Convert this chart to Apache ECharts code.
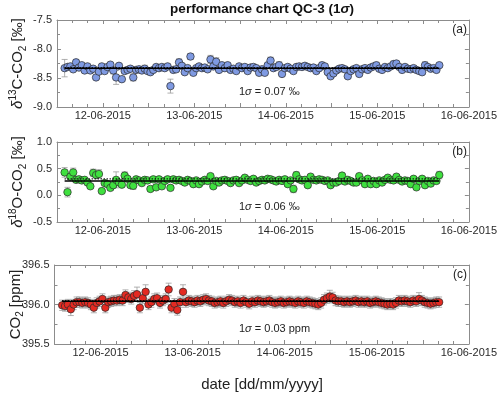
<!DOCTYPE html>
<html>
<head>
<meta charset="utf-8">
<script src="https://cdn.jsdelivr.net/npm/echarts@6/dist/echarts.min.js"></script>
<style>
  html, body { margin: 0; padding: 0; background: #fff; }
  #chart { width: 500px; height: 399px; }
</style>
</head>
<body>
<div id="chart"></div>
<script>
// 测量时间：6月11日 14:00 起，每 45 分钟一次（单位：6 月的日）
const timeStart = 11 + 14 / 24
const timeStep = 0.75 / 24

// x 轴刻度标签（日）
const dayTicks = [12, 13, 14, 15, 16]

// δ13C-CO2 [‰]
const d13C = [
  -8.33, -8.31, -8.30, -8.35, -8.23, -8.32, -8.28, -8.37, -8.30, -8.37,
  -8.34, -8.49, -8.39, -8.30, -8.38, -8.31, -8.27, -8.37, -8.49, -8.29,
  -8.52, -8.38, -8.36, -8.34, -8.49, -8.36, -8.35, -8.37, -8.34, -8.38,
  -8.40, -8.36, -8.31, -8.33, -8.31, -8.33, -8.30, -8.64, -8.36, -8.35,
  -8.23, -8.29, -8.40, -8.33, -8.13, -8.41, -8.33, -8.30, -8.33, -8.32,
  -8.35, -8.18, -8.30, -8.22, -8.36, -8.28, -8.33, -8.28, -8.36, -8.34,
  -8.38, -8.30, -8.33, -8.31, -8.38, -8.32, -8.31, -8.33, -8.41, -8.35,
  -8.41, -8.28, -8.20, -8.33, -8.31, -8.28, -8.43, -8.33, -8.31, -8.34,
  -8.38, -8.31, -8.30, -8.31, -8.29, -8.31, -8.33, -8.32, -8.38, -8.33,
  -8.28, -8.30, -8.40, -8.47, -8.42, -8.37, -8.34, -8.33, -8.35, -8.47,
  -8.38, -8.35, -8.33, -8.43, -8.35, -8.33, -8.36, -8.32, -8.30, -8.28,
  -8.34, -8.36, -8.31, -8.33, -8.30, -8.26, -8.25, -8.31, -8.36, -8.31,
  -8.34, -8.35, -8.33, -8.36, -8.38, -8.40, -8.28, -8.31, -8.34, -8.33,
  -8.36, -8.28
]

// δ18O-CO2 [‰]
const d18O = [
  0.43, 0.06, 0.35, 0.43, 0.29, 0.30, 0.28, 0.29, 0.24, 0.17,
  0.42, 0.38, 0.40, 0.08, 0.23, 0.21, 0.14, 0.19, 0.29, 0.24,
  0.20, 0.37, 0.31, 0.19, 0.18, 0.30, 0.28, 0.23, 0.29, 0.28,
  0.12, 0.30, 0.15, 0.30, 0.17, 0.27, 0.30, 0.14, 0.30, 0.28,
  0.29, 0.27, 0.24, 0.29, 0.27, 0.21, 0.28, 0.21, 0.26, 0.29,
  0.27, 0.36, 0.17, 0.27, 0.24, 0.28, 0.29, 0.27, 0.23, 0.28,
  0.29, 0.23, 0.28, 0.33, 0.29, 0.27, 0.31, 0.24, 0.27, 0.29,
  0.28, 0.31, 0.30, 0.28, 0.26, 0.29, 0.27, 0.30, 0.21, 0.28,
  0.12, 0.38, 0.30, 0.28, 0.29, 0.19, 0.35, 0.29, 0.28, 0.30,
  0.29, 0.27, 0.28, 0.19, 0.24, 0.24, 0.27, 0.37, 0.26, 0.29,
  0.27, 0.24, 0.24, 0.36, 0.28, 0.21, 0.31, 0.21, 0.27, 0.21,
  0.28, 0.24, 0.29, 0.33, 0.29, 0.28, 0.35, 0.29, 0.26, 0.28,
  0.27, 0.21, 0.31, 0.15, 0.27, 0.31, 0.19, 0.27, 0.22, 0.28,
  0.27, 0.38
]

// CO2 [ppm]
const co2 = [
  395.99, 395.98, 396.00, 395.94, 396.00, 396.03, 396.03, 396.02, 396.03, 396.02,
  396.00, 395.96, 396.02, 396.04, 396.07, 395.96, 396.03, 396.04, 396.05, 396.05,
  396.06, 396.05, 396.12, 396.09, 396.07, 396.11, 396.13, 395.96, 396.08, 396.16,
  396.00, 396.03, 396.07, 396.08, 396.02, 396.05, 396.07, 396.19, 395.96, 396.01,
  395.93, 396.03, 396.16, 396.03, 396.05, 396.04, 396.03, 396.05, 396.04, 396.06,
  396.07, 396.05, 396.04, 396.02, 396.03, 396.04, 396.02, 396.04, 396.06, 396.05,
  396.03, 396.04, 396.02, 396.05, 396.03, 396.01, 396.04, 396.03, 396.05, 396.04,
  396.03, 396.04, 396.05, 396.03, 396.02, 396.03, 396.04, 396.02, 396.03, 396.04,
  396.03, 396.02, 396.04, 396.03, 396.02, 396.04, 396.03, 396.02, 396.01, 396.00,
  396.02, 396.06, 396.08, 396.10, 396.09, 396.05, 396.04, 396.04, 396.03, 396.04,
  396.03, 396.04, 396.05, 396.03, 396.04, 396.03, 396.04, 396.02, 396.03, 396.04,
  396.03, 396.02, 396.01, 396.00, 396.01, 396.00, 396.02, 396.05, 396.04, 396.05,
  396.04, 396.03, 396.05, 396.04, 396.07, 396.05, 396.03, 396.02, 396.01, 396.02,
  396.03, 396.03
]

// 误差（1σ）：默认值 + 个别点
const errDefault = [0.03, 0.04, 0.065]
const errExtraA = { 0: 0.15, 4: 0.05, 17: 0.06, 18: 0.12, 24: 0.06, 28: 0.06, 37: 0.12, 40: 0.06, 44: 0.05, 51: 0.07, 53: 0.07, 72: 0.06, 75: 0.06, 90: 0.05, 109: 0.05, 115: 0.05, 126: 0.06 }
const errExtraB = { 0: 0.09, 1: 0.09, 3: 0.08, 10: 0.07, 12: 0.08, 18: 0.15, 21: 0.07, 24: 0.07, 80: 0.07, 81: 0.06, 131: 0.07 }
const errExtraC = { 3: 0.08, 26: 0.09, 29: 0.09, 37: 0.08, 42: 0.09, 93: 0.08, 124: 0.08 }

// 平均线（实线）与参考线（点线）
const meanValues = [-8.33, 0.27, 396.04]
const refValues = [-8.32, 0.31, 396.05]

// y 轴范围与刻度标签
const yMin = [-9.0, -0.5, 395.5]
const yMax = [-7.5, 1.0, 396.5]
const yTicks = [
  [-9.0, -8.5, -8.0, -7.5],
  [-0.5, 0.0, 0.5, 1.0],
  [395.5, 396.0, 396.5]
]
const sigmaTexts = ['= 0.07 ‰', '= 0.06 ‰', '= 0.03 ppm']
const panelTags = ['(a)', '(b)', '(c)']

const FONT = 'Liberation Sans'
const colors = ['#7f9ae2', '#3fe03f', '#e42a22']
const grids = [
  { left: 54, right: 29, top: 20, height: 87 },
  { left: 54, right: 29, top: 142, height: 80 },
  { left: 54, right: 29, top: 265, height: 79 }
]

const times = d13C.map((_, i) => timeStart + i * timeStep)
const tFirst = times[0]
const tLast = times[times.length - 1]

const pad = (n) => (n < 10 ? '0' + n : '' + n)
const dateLabel = (v) => {
  const d = Math.round(v)
  if (Math.abs(v - d) > 1e-6 || dayTicks.indexOf(d) < 0) return ''
  return pad(d) + '-06-2015'
}

const yNames = [
  '{it|δ}{sup|13}{n|C-CO}{sub|2}{n| [‰]}',
  '{it|δ}{sup|18}{n|O-CO}{sub|2}{n| [‰]}',
  '{n|CO}{sub|2}{n| [ppm]}'
]
const nameRich = {
  n: { fontFamily: FONT, fontSize: 15, color: '#222', lineHeight: 20 },
  it: { fontFamily: FONT, fontSize: 15, fontStyle: 'italic', color: '#222', lineHeight: 20 },
  sup: { fontFamily: FONT, fontSize: 10, color: '#222', verticalAlign: 'top', lineHeight: 10 },
  sub: { fontFamily: FONT, fontSize: 10, color: '#222', verticalAlign: 'bottom', lineHeight: 10 }
}

const axisLineStyle = { color: '#8c8c8c', width: 1 }
const tickStyle = { color: '#8c8c8c', width: 1 }

const xAxes = []
const yAxes = []
const series = []
const seriesData = [d13C, d18O, co2]
const errExtras = [errExtraA, errExtraB, errExtraC]

grids.forEach((g, k) => {
  // 下方 x 轴（带标签）和上方 x 轴（只画刻度）
  xAxes.push({
    type: 'value', gridIndex: k, min: 11.5, max: 16, interval: 0.5, position: 'bottom',
    axisLine: { onZero: false, lineStyle: axisLineStyle },
    axisTick: { inside: true, length: 4, lineStyle: tickStyle },
    minorTick: { show: true, splitNumber: 3, length: 3, lineStyle: tickStyle },
    axisLabel: { formatter: dateLabel, fontFamily: FONT, fontSize: 11, color: '#2a2a2a', margin: 3, showMaxLabel: true },
    splitLine: { show: false }
  })
  xAxes.push({
    type: 'value', gridIndex: k, min: 11.5, max: 16, interval: 0.5, position: 'top',
    axisLine: { onZero: false, lineStyle: axisLineStyle },
    axisTick: { inside: true, length: 4, lineStyle: tickStyle },
    minorTick: { show: true, splitNumber: 3, length: 3, lineStyle: tickStyle },
    axisLabel: { show: false },
    splitLine: { show: false }
  })
  yAxes.push({
    type: 'value', gridIndex: k, min: yMin[k], max: yMax[k], interval: 0.5, position: 'left',
    axisLine: { onZero: false, lineStyle: axisLineStyle },
    axisTick: { inside: true, length: 4, lineStyle: tickStyle },
    minorTick: { show: true, splitNumber: 2, length: 3, lineStyle: tickStyle },
    axisLabel: {
      customValues: yTicks[k],
      formatter: (v) => v.toFixed(1), fontFamily: FONT, fontSize: 11, color: '#2a2a2a', margin: 5,
      showMinLabel: true, showMaxLabel: true, hideOverlap: false
    },
    splitLine: { show: false },
    name: yNames[k], nameLocation: 'middle', nameRotate: 90, nameGap: 29,
    nameMoveOverlap: false,
    nameTextStyle: { rich: nameRich }
  })
  yAxes.push({
    type: 'value', gridIndex: k, min: yMin[k], max: yMax[k], interval: 0.5, position: 'right',
    axisLine: { onZero: false, lineStyle: axisLineStyle },
    axisTick: { inside: true, length: 4, lineStyle: tickStyle },
    minorTick: { show: true, splitNumber: 2, length: 3, lineStyle: tickStyle },
    axisLabel: { show: false },
    splitLine: { show: false }
  })

  const vals = seriesData[k]
  const errData = vals.map((v, i) => {
    const e = errExtras[k][i] !== undefined ? errExtras[k][i] : errDefault[k]
    return [times[i], v - e, v + e]
  })

  // 误差棒
  series.push({
    type: 'custom', xAxisIndex: 2 * k, yAxisIndex: 2 * k, z: 1, silent: true,
    data: errData,
    encode: { x: 0, y: [1, 2] },
    renderItem: (params, api) => {
      const x = api.value(0)
      const lo = api.coord([x, api.value(1)])
      const hi = api.coord([x, api.value(2)])
      const w = 3
      const st = { stroke: '#9c9c9c', lineWidth: 0.8 }
      return {
        type: 'group',
        children: [
          { type: 'line', shape: { x1: lo[0], y1: lo[1], x2: hi[0], y2: hi[1] }, style: st },
          { type: 'line', shape: { x1: lo[0] - w, y1: lo[1], x2: lo[0] + w, y2: lo[1] }, style: st },
          { type: 'line', shape: { x1: hi[0] - w, y1: hi[1], x2: hi[0] + w, y2: hi[1] }, style: st }
        ]
      }
    }
  })

  // 数据点
  series.push({
    type: 'scatter', xAxisIndex: 2 * k, yAxisIndex: 2 * k, z: 2,
    symbol: 'circle', symbolSize: 7.5,
    itemStyle: { color: colors[k], borderColor: '#2a2a2a', borderWidth: 0.7, opacity: 1 },
    data: vals.map((v, i) => [times[i], v])
  })

  // 平均线（实线）
  series.push({
    type: 'line', xAxisIndex: 2 * k, yAxisIndex: 2 * k, z: 3, silent: true,
    showSymbol: false, lineStyle: { color: '#000', width: 1.5 },
    data: [[tFirst, meanValues[k]], [tLast, meanValues[k]]]
  })
  // 参考线（点线）
  series.push({
    type: 'line', xAxisIndex: 2 * k, yAxisIndex: 2 * k, z: 4, silent: true,
    showSymbol: false, lineStyle: { color: '#000', width: 1.2, type: [1.2, 1.8] },
    data: [[tFirst, refValues[k]], [tLast, refValues[k]]]
  })
})

// 图内文字
const graphics = [
  {
    type: 'text', x: 262, y: 9,
    style: {
      text: '{b|performance chart QC-3 (1}{bi|σ}{b|)}',
      align: 'center', verticalAlign: 'middle',
      rich: {
        b: { fontFamily: FONT, fontSize: 13.5, fontWeight: 'bold', fill: '#111' },
        bi: { fontFamily: FONT, fontSize: 13.5, fontWeight: 'bold', fontStyle: 'italic', fill: '#111' }
      }
    }
  },
  {
    type: 'text', x: 262, y: 385,
    style: { text: 'date [dd/mm/yyyy]', fontFamily: FONT, fontSize: 15, fill: '#222', align: 'center', verticalAlign: 'middle' }
  }
]
grids.forEach((g, k) => {
  const bottom = g.top + g.height
  graphics.push({
    type: 'text', x: 239, y: bottom - 15,
    style: {
      text: '{n|1}{it|σ}{n| ' + sigmaTexts[k] + '}',
      verticalAlign: 'middle',
      rich: {
        n: { fontFamily: FONT, fontSize: 11, fill: '#222' },
        it: { fontFamily: FONT, fontSize: 11, fontStyle: 'italic', fill: '#222' }
      }
    }
  })
  graphics.push({
    type: 'text', x: 467, y: g.top + 10,
    style: { text: panelTags[k], fontFamily: FONT, fontSize: 12, fill: '#222', align: 'right', verticalAlign: 'middle' }
  })
})

const chart = echarts.init(document.getElementById('chart'), null, { renderer: 'canvas' })
chart.setOption({
  animation: false,
  backgroundColor: '#fff',
  grid: grids,
  xAxis: xAxes,
  yAxis: yAxes,
  series: series,
  graphic: graphics
})

window.addEventListener('resize', () => chart.resize())
</script>
</body>
</html>
